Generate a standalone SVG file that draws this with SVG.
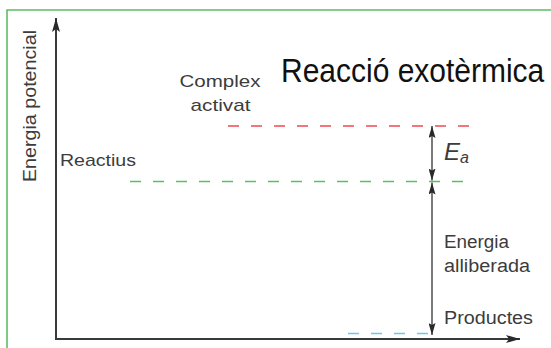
<svg xmlns="http://www.w3.org/2000/svg" width="551" height="348" viewBox="0 0 551 348">
<defs>
<style>
.t{font-family:"Liberation Sans",Arial,sans-serif;fill:#3c3c3c;}
.axis{stroke:#3a3a3a;stroke-width:2;fill:none;}
.dim{stroke:#333;stroke-width:1.3;fill:none;}
.dash{stroke-width:1.6;stroke-dasharray:11 12;fill:none;}
</style>
<marker id="axhead" viewBox="0 0 14 8" refX="14" refY="4" markerWidth="14" markerHeight="8" markerUnits="userSpaceOnUse" orient="auto">
<path d="M0,0 L14,4 L0,8 L3,4 Z" fill="#2a2a2a"/>
</marker>
<marker id="dimhead" viewBox="0 0 12 7" refX="12" refY="3.5" markerWidth="12" markerHeight="7" markerUnits="userSpaceOnUse" orient="auto-start-reverse">
<path d="M0,0 L12,3.5 L0,7 L2,3.5 Z" fill="#2a2a2a"/>
</marker>
</defs>
<rect width="551" height="348" fill="#fff"/>
<g id="frame">
<path d="M7,348 V10 H551" fill="none" stroke="#5cbf63" stroke-width="1.6"/>
</g>
<g id="connectors">
<line class="axis" x1="56" y1="339" x2="56" y2="18" marker-end="url(#axhead)"/>
<line class="axis" x1="55" y1="339" x2="520" y2="339" marker-end="url(#axhead)"/>
<line class="dash" x1="228" y1="126" x2="474" y2="126" stroke="#ee4a52"/>
<line class="dash" x1="130" y1="181.5" x2="470" y2="181.5" stroke="#55c162"/>
<line class="dash" x1="348" y1="333.5" x2="432" y2="333.5" stroke="#72c6ec"/>
<line class="dim" x1="432" y1="126" x2="432" y2="180.5" marker-start="url(#dimhead)" marker-end="url(#dimhead)"/>
<line class="dim" x1="432" y1="182.5" x2="432" y2="335" marker-start="url(#dimhead)" marker-end="url(#dimhead)"/>
</g>
<g id="title">
<text transform="translate(281,82) scale(1,1.1)" x="0" y="0" font-family="'Liberation Sans', Arial, sans-serif" font-size="30" fill="#111">Reacció exotèrmica</text>
</g>
<g id="yaxis-label">
<text class="t" transform="translate(36,106) rotate(-90)" text-anchor="middle" font-size="19" textLength="152" lengthAdjust="spacingAndGlyphs">Energia potencial</text>
</g>
<g id="complex">
<text class="t" x="220" y="87" text-anchor="middle" font-size="17" textLength="81" lengthAdjust="spacingAndGlyphs">Complex</text>
<text class="t" x="220.5" y="111" text-anchor="middle" font-size="17" textLength="60" lengthAdjust="spacingAndGlyphs">activat</text>
</g>
<g id="reactius">
<text class="t" x="60" y="166" font-size="17" textLength="76" lengthAdjust="spacingAndGlyphs">Reactius</text>
</g>
<g id="ea">
<text class="t" x="444" y="160" font-size="24" font-style="italic">E<tspan font-size="16" dy="3">a</tspan></text>
</g>
<g id="energia-alliberada">
<text class="t" x="444" y="248" font-size="18" textLength="65" lengthAdjust="spacingAndGlyphs">Energia</text>
<text class="t" x="444" y="272" font-size="18" textLength="86" lengthAdjust="spacingAndGlyphs">alliberada</text>
</g>
<g id="productes">
<text class="t" x="444" y="324" font-size="18" textLength="89" lengthAdjust="spacingAndGlyphs">Productes</text>
</g>
</svg>
